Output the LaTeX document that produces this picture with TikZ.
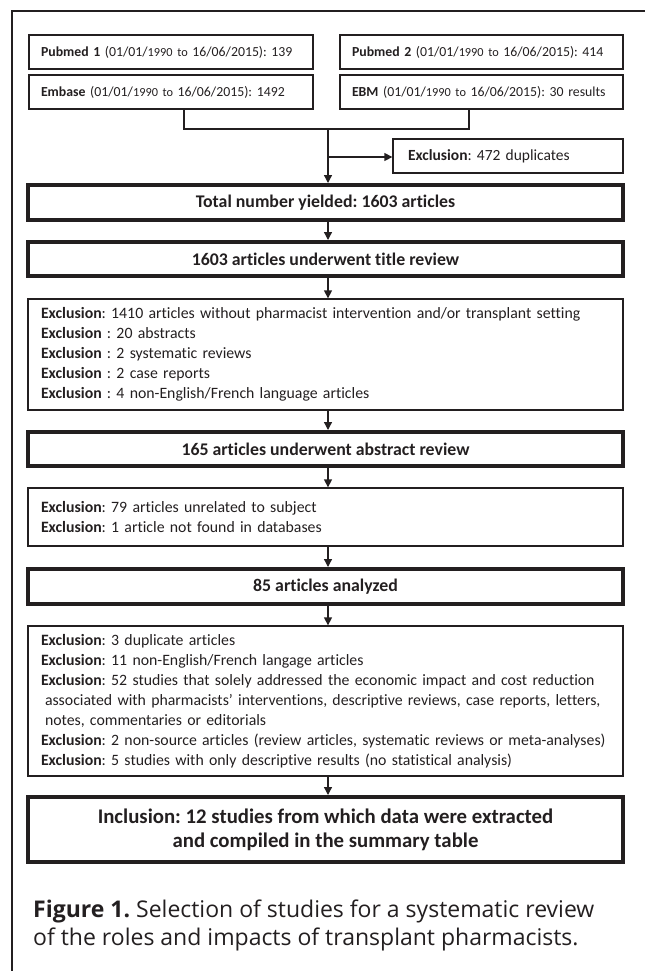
\documentclass[tikz,border=0pt]{standalone}
\usepackage{fontspec}
\setmainfont{Carlito}[Ligatures=NoCommon]
\newfontfamily\capfont{Open Sans}
\usetikzlibrary{arrows.meta,calc}
\definecolor{ink}{HTML}{231F20}
\newcommand\yrs[1]{{\fontsize{12.3}{14}\selectfont #1}}
\frenchspacing
\begin{document}
\begin{tikzpicture}[x=1pt,y=-1pt,
  every node/.style={text=ink},
  thinbox/.style={draw=ink,line width=1.3pt,inner sep=0pt},
  thickbox/.style={draw=ink,line width=4pt,inner sep=0pt,align=center,
     font=\bfseries\fontsize{17.8}{20}\selectfont},
  srcbox/.style={thinbox,minimum width=284pt,minimum height=34pt,text width=260pt,
     inner xsep=12pt,align=left,font=\fontsize{13.8}{18}\selectfont},
  exbox/.style={thinbox,minimum width=595pt,text width=569pt,inner xsep=13pt,
     align=left,font=\fontsize{15.8}{20}\selectfont},
  arr/.style={draw=ink,line width=1.3pt,-{Triangle[length=8pt,width=8pt]}},
  conn/.style={draw=ink,line width=1.3pt}]
\useasboundingbox (0,0) rectangle (645,971);
% outer frame (top and left edges)
\draw[draw=ink,line width=1.3pt] (12,971) -- (12,11) -- (645,11);

% sources
\node[srcbox] (pm1) at (171,52) {\mbox{\textbf{Pubmed 1} (01/01/\yrs{1990 to} 16/06/2015): 139}};
\node[srcbox,minimum width=283pt,text width=259pt] (pm2) at (481.5,52) {\mbox{\textbf{Pubmed 2} (01/01/\yrs{1990 to} 16/06/2015): 414}};
\node[srcbox] (emb) at (171,92) {\mbox{\textbf{Embase} (01/01/\yrs{1990 to} 16/06/2015): 1492}};
\node[srcbox,minimum width=283pt,text width=259pt] (ebm) at (481.5,92) {\mbox{\textbf{EBM} (01/01/\yrs{1990 to} 16/06/2015): 30 results}};

\node[thinbox,minimum width=230pt,minimum height=34pt,text width=200pt,inner xsep=15pt,
  align=left,font=\fontsize{15.5}{18}\selectfont] (dup) at (508,156) {\textbf{Exclusion}: 472 duplicates};

% main column
\node[thickbox,minimum width=595pt,minimum height=35pt] (tot) at (325.5,202.5) {Total number yielded: 1603 articles};
\node[thickbox,minimum width=595pt,minimum height=34pt] (title) at (325.5,259) {1603 articles underwent title review};
\node[exbox,minimum height=111pt] (ex1) at (325.5,354.5) {%
\mbox{\textbf{Exclusion}: 1410 articles without pharmacist intervention and/or transplant setting}\\
\textbf{Exclusion} : 20 abstracts\\
\textbf{Exclusion} : 2 systematic reviews\\
\textbf{Exclusion} : 2 case reports\\
\textbf{Exclusion} : 4 non-English/French language articles};
\node[thickbox,minimum width=595pt,minimum height=34pt] (abs) at (325.5,449) {165 articles underwent abstract review};
\node[exbox,minimum height=58pt] (ex2) at (325.5,517) {%
\textbf{Exclusion}: 79 articles unrelated to subject\\
\textbf{Exclusion}: 1 article not found in databases};
\node[thickbox,minimum width=595pt,minimum height=35pt] (ana) at (325.5,586.5) {85 articles analyzed};
\node[exbox,minimum height=150pt] (ex3) at (325.5,701) {%
\textbf{Exclusion}: 3 duplicate articles\\
\textbf{Exclusion}: 11 non-English/French langage articles\\
\mbox{\textbf{Exclusion}: 52 studies that solely addressed the economic impact and cost reduction}\\
\mbox{\hspace*{4pt}associated with pharmacists’ interventions, descriptive reviews, case reports, letters,}\\
\hspace*{4pt}notes, commentaries or editorials\\
\mbox{\textbf{Exclusion}: 2 non-source articles (review articles, systematic reviews or meta-analyses)}\\
\mbox{\textbf{Exclusion}: 5 studies with only descriptive results (no statistical analysis)}};
\node[thickbox,minimum width=595pt,minimum height=65pt,
  font=\bfseries\fontsize{20.8}{24}\selectfont] (inc) at (325.5,829.5) {Inclusion: 12 studies from which data were extracted\\ and compiled in the summary table};

% caption
\node[anchor=base west,align=left,inner sep=0pt,font=\capfont\fontsize{23}{28}\selectfont] (cap) at (33,945)
  {\textbf{Figure 1.} Selection of studies for a systematic review\\ of the roles and impacts of transplant pharmacists.};

% connectors
\coordinate (bl) at (184,129);
\coordinate (br) at (469,129);
\coordinate (cx) at (328,129);
\coordinate (bj) at (328,157);
\draw[conn] (emb.south -| bl) -- (bl) -- (br) -- (ebm.south -| br);
\draw[arr] (cx) -- (tot.north -| cx);
\draw[arr] (bj) -- (bj -| dup.west);
\draw[arr] (tot.south -| cx) -- (title.north -| cx);
\draw[arr] (title.south -| cx) -- (ex1.north -| cx);
\draw[arr] (ex1.south -| cx) -- (abs.north -| cx);
\draw[arr] (abs.south -| cx) -- (ex2.north -| cx);
\draw[arr] (ex2.south -| cx) -- (ana.north -| cx);
\draw[arr] (ana.south -| cx) -- (ex3.north -| cx);
\draw[arr] (ex3.south -| cx) -- (inc.north -| cx);
\end{tikzpicture}
\end{document}
